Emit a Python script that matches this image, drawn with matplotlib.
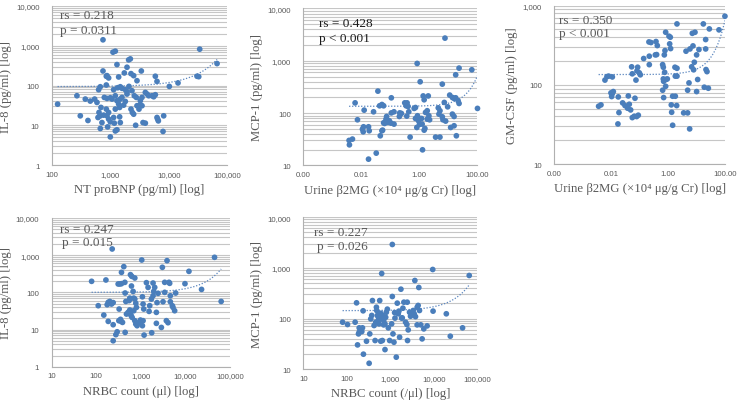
import matplotlib
matplotlib.use("Agg")
import matplotlib.pyplot as plt
import numpy as np
from matplotlib.ticker import FixedLocator, FuncFormatter, LogLocator, NullFormatter, NullLocator

# ---------------- data ----------------
# Panel 1: NT proBNP vs IL-8
ntprobnp = [125, 749, 1111, 1218, 1300, 2061, 2203, 1932, 749, 3398,
            34000, 67400, 30600, 32700, 14450, 10260, 5906, 6310, 1390, 854,
            936, 877, 1738, 2261, 2512, 2865, 674, 631, 854, 1140,
            1336, 1483, 1585, 1807, 1932, 2089, 2350, 2578, 2791, 268,
            373, 454, 539, 591, 789, 877, 1000, 1069, 1218, 1300,
            1390, 1483, 1585, 1693, 1807, 1932, 3490, 3268, 3183, 3490,
            3981, 4255, 4543, 5180, 5534, 5906, 692, 640, 674, 854,
            936, 769, 1218, 1445, 2261, 2384, 2512, 2865, 3100, 306,
            414, 615, 674, 719, 877, 936, 1000, 1140, 1172, 1300,
            1218, 1000, 900, 1445, 1483, 2718, 3631, 3981, 6310, 6475,
            6650, 8208, 7998]
il8_bnp = [34, 1410, 689, 730, 336, 441, 467, 288, 232, 232,
           820, 356, 171, 167, 116, 95, 171, 127, 164, 171,
           155, 177, 207, 199, 177, 132, 93, 78.5, 103, 78.5,
           88, 93, 85, 78.5, 70, 95, 74, 55.3, 50.2, 55.3,
           45.6, 40.6, 45.6, 37.6, 50.2, 47.4, 49.3, 45.6, 55.3, 41.4,
           34.1, 45.6, 50.2, 32.1, 39.8, 61, 50.2, 41.4, 32.1, 31,
           67, 61, 55.3, 55.3, 52.2, 58.6, 28.1, 21, 17.3, 25.5,
           21, 18, 25.5, 28.1, 25.5, 21, 19, 31, 25.5, 17.3,
           13.2, 15.7, 8.3, 11.7, 17.3, 14.3, 12.2, 15.7, 11.3, 7.7,
           7.2, 5.1, 9.1, 16.3, 11.7, 10.0, 11.7, 11.3, 15.7, 14.3,
           12.9, 17.3, 7.0]

# Panel 2: urine b2MG vs MCP-1
b2mg_mcp = [7.76, 0.848, 1.077, 6.27, 18.2, 23.8, 65.6, 103, 0.00608, 0.00735,
            0.0125, 0.0373, 0.0427, 0.0514, 0.0588, 0.1086, 0.0264, 0.0119, 0.0109, 0.0116,
            0.0177, 0.0187, 0.00377, 0.00387, 0.00492, 0.0177, 0.0327, 0.0451, 0.0514, 0.0543,
            0.0637, 0.0588, 0.0710, 0.0748, 0.0832, 0.0925, 0.1057, 0.1345, 0.206, 0.212,
            0.242, 0.316, 0.381, 0.352, 0.412, 0.435, 0.371, 0.484, 0.742, 0.871,
            0.944, 1.02, 1.3, 1.37, 1.48, 2.05, 0.667, 0.742, 0.826, 1.2,
            1.26, 1.57, 1.65, 1.89, 2.16, 1.89, 2.28, 1.48, 3.68, 5.2,
            4.55, 5.2, 4.8, 6.27, 6.6, 8.19, 7.36, 9.6, 11.3, 14,
            16, 12.2, 14, 16, 18.2, 22, 23.8, 16, 19.2, 0.1086, 0.134]
mcp1_b2mg = [2710, 889, 397, 358, 540, 724, 673, 123, 157, 74.6,
             114, 263, 138, 146, 138, 196, 106, 54.8, 49.4, 44,
             54.8, 46, 30.1, 24.8, 31.9, 13.2, 17.2, 36.9, 46, 47.3,
             63.5, 65.4, 76.7, 86.3, 66.4, 71.4, 64.4, 61.7, 86.3, 101,
             98.6, 157, 157, 138, 134, 106, 87.7, 34.8, 128, 89,
             71.4, 60.8, 19.9, 213, 180, 213, 123, 79, 53.2, 79,
             61.7, 50.9, 103, 111, 89, 76.7, 74.6, 47.3, 34.8, 34.8,
             126, 111, 95.7, 85.1, 74.6, 70.4, 160, 132, 221, 199,
             191, 53.2, 95.7, 86.3, 196, 172, 153, 57.3, 36.9, 101, 106]

# Panel 3: urine b2MG vs GM-CSF
b2mg_gm = [0.00362, 0.00438, 0.00605, 0.00711, 0.00815, 0.011, 0.00984, 0.011, 0.0104, 0.0119,
           0.0178, 0.0188, 0.0173, 0.0253, 0.0306, 0.0379, 0.0434, 0.0401, 0.0484, 0.0553,
           0.0651, 0.0525, 0.0553, 0.0687, 0.0786, 0.09, 0.0745, 0.0807, 0.0853, 0.0975,
           0.106, 0.139, 0.219, 0.213, 0.251, 0.219, 0.357, 0.397, 0.377, 0.419,
           0.646, 0.681, 0.759, 0.739, 0.78, 0.681, 0.846, 0.942, 0.824, 1.08,
           1.14, 1.23, 0.7, 0.646, 0.7, 0.824, 1.2, 1.3, 1.45, 1.8,
           2.01, 1.34, 1.45, 2.06, 1.8, 2.06, 1.75, 2.06, 3.54, 4.89,
           4.28, 5.9, 6.76, 5.45, 4.89, 5.75, 7.13, 8.85, 7.53, 12.2,
           7.94, 8.39, 10.1, 11, 10.1, 18.8, 17.4, 21, 21, 21.6,
           23.4, 26.1, 28.3, 61.8, 100]
gmcsf_b2mg = [53.8, 56, 115, 127, 129, 126, 79.3, 77.8, 71.3, 82.4,
              70.6, 44.8, 32.2, 59.3, 54.9, 50.8, 57, 72.6, 48.4, 38.7,
              40.3, 169, 138, 67.9, 39.9, 41.5, 115, 150, 167, 142,
              134, 215, 230, 348, 342, 180, 239, 241, 352, 313,
              180, 167, 144, 239, 271, 119, 117, 119, 461, 411,
              329, 287, 111, 85.7, 69.2, 96, 399, 56, 72, 72,
              54.9, 45.2, 31, 587, 129, 129, 167, 162, 44.4, 44.4,
              266, 284, 169, 106, 85.7, 27.9, 447, 461, 310, 279,
              155, 193, 239, 117, 82.4, 93.5, 587, 373, 284, 156,
              147, 90.8, 508, 494, 734]

# Panel 4: NRBC count vs IL-8
nrbc_il8 = [78.7, 111, 165, 228, 186, 202, 176, 148, 186, 220,
            240, 240, 240, 276, 295, 311, 339, 369, 327, 322,
            351, 363, 389, 369, 416, 439, 446, 462, 446, 587,
            629, 735, 618, 567, 548, 478, 520, 567, 587, 608,
            640, 673, 697, 735, 773, 800, 697, 735, 773, 828,
            918, 984, 1052, 1089, 1127, 1167, 1127, 1089, 1188, 1340,
            1460, 1538, 1590, 1733, 1888, 1954, 1762, 1888, 2057, 2243,
            2321, 2243, 2445, 2904, 3057, 3162, 3447, 3447, 3758, 3890,
            4311, 4460, 4617, 4617, 4096, 5117, 5297, 5772, 6077, 9840,
            12080, 23200, 45400, 64000]
il8_nrbc = [198, 43.8, 215, 1466, 54, 57, 46.6, 24.5, 16.6, 48.5,
            53, 13.5, 5.0, 7.3, 8.7, 168, 168, 171, 35.6, 17.3,
            18.8, 16.6, 15.6, 345, 491, 186, 96, 57, 8.4, 299,
            269, 243, 148, 70, 60, 26.1, 29, 33.5, 26.1, 23.6,
            21.2, 106, 70, 66, 51, 39.5, 32.1, 17.3, 14.1, 12.7,
            15.6, 18, 741, 76, 48.5, 35.6, 17.3, 12.7, 7.1, 182,
            136, 30.8, 43.8, 66, 81, 106, 8.2, 178, 136, 29,
            53, 14.7, 94, 11.4, 471, 56, 186, 100, 17.3, 711,
            186, 175, 81, 56, 15.3, 43.8, 39.5, 32.1, 96, 171,
            367, 120, 874, 57]

# Panel 5: NRBC count vs MCP-1
nrbc_mcp = [79.3, 103, 154, 166, 191, 191, 184, 175, 235, 227,
            219, 239, 281, 323, 334, 352, 371, 385, 420, 458,
            475, 483, 500, 527, 443, 527, 546, 565, 596, 628,
            651, 698, 748, 628, 698, 651, 596, 776, 803, 847,
            748, 892, 957, 1102, 1102, 1064, 1141, 1202, 1245, 1268,
            1359, 1432, 1510, 1564, 1621, 1738, 1800, 1864, 1931, 2035,
            2223, 2384, 2557, 2467, 2427, 2742, 2890, 3327, 3508, 3760,
            3633, 4105, 4105, 4481, 4328, 4642, 4978, 5340, 5833, 6953,
            9358, 9526, 19220, 23730, 45400, 64600]
mcp1_nrbc = [84.7, 76.2, 84.7, 204, 65.5, 53.7, 49.8, 30.2, 142, 65.5,
             55.3, 19.8, 35.7, 13.1, 49.8, 98.5, 115, 226, 72.8, 84.7,
             167, 144, 115, 106, 36.8, 91.4, 78.5, 226, 127, 103,
             115, 91.4, 78.5, 773, 75, 36.8, 35.7, 106, 133, 153,
             24.4, 65.5, 36.8, 2888, 272, 78.5, 49.8, 34.1, 131, 102,
             17.3, 201, 124, 140, 42.8, 379, 102, 103, 160, 210,
             84.7, 76.2, 59.7, 36.8, 210, 133, 111, 144, 124, 109,
             562, 167, 75, 409, 181, 144, 75, 39.7, 62.5, 71.6,
             927, 140, 124, 44.8, 65.5, 706]

# exponential trendline y = a * exp(b * x)
trend_a = [94, 135, 135, 100, 143]
trend_b = [2.33e-5, 0.0131, 0.0157, 2.26e-5, 1.81e-5]

rs_labels = ["rs = 0.218", "rs = 0.428", "rs = 0.350", "rs = 0.247", "rs = 0.227"]
p_labels = ["p = 0.0311", "p < 0.001", "p < 0.001", "p = 0.015", "p = 0.026"]
xlabels = ["NT proBNP (pg/ml) [log]",
           "Urine β2MG (×10⁴ μg/g Cr) [log]",
           "Urine β2MG (×10⁴ μg/g Cr) [log]",
           "NRBC count (μl) [log]",
           "NRBC count (/μl) [log]"]
ylabels = ["IL-8 (pg/ml) [log]", "MCP-1 (pg/ml) [log]", "GM-CSF (pg/ml) [log]",
           "IL-8 (pg/ml) [log]", "MCP-1 (pg/ml) [log]"]

# ---------------- style ----------------
BLUE = "#4a7ebb"
GRID = "#c6c6c6"
TXT = "#595959"
SERIF = ["Liberation Serif", "DejaVu Serif"]
SANS = ["Liberation Sans", "DejaVu Sans"]

fig = plt.figure(figsize=(7.42, 4.10), dpi=100)

panels = [
    dict(rect=[0.070, 0.595, 0.236, 0.388], x=ntprobnp, y=il8_bnp,
         xlim=(1e2, 1e5), ylim=(1, 1e4), xticks=[1e2, 1e3, 1e4, 1e5], dec=False,
         txt=(0.046, 0.943, 0.849, 0.046), tcol=TXT),
    dict(rect=[0.409, 0.594, 0.234, 0.383], x=b2mg_mcp, y=mcp1_b2mg,
         xlim=(1e-4, 1e2), ylim=(10, 1e4), xticks=[1e-4, 1e-2, 1, 1e2], dec=True,
         txt=(0.088, 0.906, 0.811, 0.088), tcol="#1a1a1a"),
    dict(rect=[0.747, 0.597, 0.230, 0.387], x=b2mg_gm, y=gmcsf_b2mg,
         xlim=(1e-4, 1e2), ylim=(10, 1e3), xticks=[1e-4, 1e-2, 1, 1e2], dec=True,
         txt=(0.028, 0.912, 0.826, 0.028), tcol=TXT),
    dict(rect=[0.0697, 0.103, 0.240, 0.363], x=nrbc_il8, y=il8_nrbc,
         xlim=(10, 1e5), ylim=(1, 1e4), xticks=[10, 1e2, 1e3, 1e4, 1e5], dec=False,
         txt=(0.047, 0.926, 0.84, 0.058), tcol=TXT),
    dict(rect=[0.409, 0.097, 0.2345, 0.371], x=nrbc_mcp, y=mcp1_nrbc,
         xlim=(10, 1e5), ylim=(10, 1e4), xticks=[10, 1e2, 1e3, 1e4, 1e5], dec=False,
         txt=(0.063, 0.905, 0.809, 0.08), tcol=TXT),
]

int_fmt = FuncFormatter(lambda v, p: f"{int(round(v)):,}")
dec_fmt = FuncFormatter(lambda v, p: f"{v:.2f}")

for i, pn in enumerate(panels):
    ax = fig.add_axes(pn["rect"])
    ax.set_xscale("log")
    ax.set_yscale("log")
    ax.set_xlim(*pn["xlim"])
    ax.set_ylim(*pn["ylim"])

    ax.yaxis.set_major_locator(LogLocator(base=10, numticks=10))
    ax.yaxis.set_minor_locator(LogLocator(base=10, subs=np.arange(2, 10), numticks=20))
    ax.yaxis.set_major_formatter(int_fmt)
    ax.yaxis.set_minor_formatter(NullFormatter())
    ax.xaxis.set_major_locator(FixedLocator(pn["xticks"]))
    ax.xaxis.set_minor_locator(NullLocator())
    ax.xaxis.set_major_formatter(dec_fmt if pn["dec"] else int_fmt)

    ax.grid(True, which="both", axis="y", color=GRID, lw=0.8)
    ax.set_axisbelow(True)
    for s in ("top", "right"):
        ax.spines[s].set_visible(False)
    for s in ("left", "bottom"):
        ax.spines[s].set_color("#b0b0b0")
        ax.spines[s].set_linewidth(0.8)

    ax.tick_params(axis="both", which="both", length=0, labelcolor=TXT, labelsize=5.6)
    ax.tick_params(axis="y", pad=9)
    ax.tick_params(axis="x", pad=4)
    for lab in ax.get_xticklabels() + ax.get_yticklabels():
        lab.set_family(SANS)

    ax.scatter(pn["x"], pn["y"], s=17, color=BLUE, edgecolors="none", zorder=3, clip_on=False)

    xs = np.logspace(np.log10(min(pn["x"])), np.log10(max(pn["x"])), 300)
    ax.plot(xs, trend_a[i] * np.exp(trend_b[i] * xs), color="#5b86bf",
            lw=0.9, ls=(0, (1, 1.4)), zorder=2)

    ax.set_xlabel(xlabels[i], family=SERIF, fontsize=9.2, color=TXT, labelpad=4)
    ax.set_ylabel(ylabels[i], family=SERIF, fontsize=9.2, color=TXT, labelpad=3)

    tx, ty1, ty2, tx2 = pn["txt"]
    ax.text(tx, ty1, rs_labels[i], transform=ax.transAxes, family=SERIF,
            fontsize=9.5, color=pn["tcol"], va="center", ha="left")
    ax.text(tx2, ty2, p_labels[i], transform=ax.transAxes, family=SERIF,
            fontsize=9.5, color=pn["tcol"], va="center", ha="left")

fig.savefig("out.png", dpi=100, facecolor="white")
